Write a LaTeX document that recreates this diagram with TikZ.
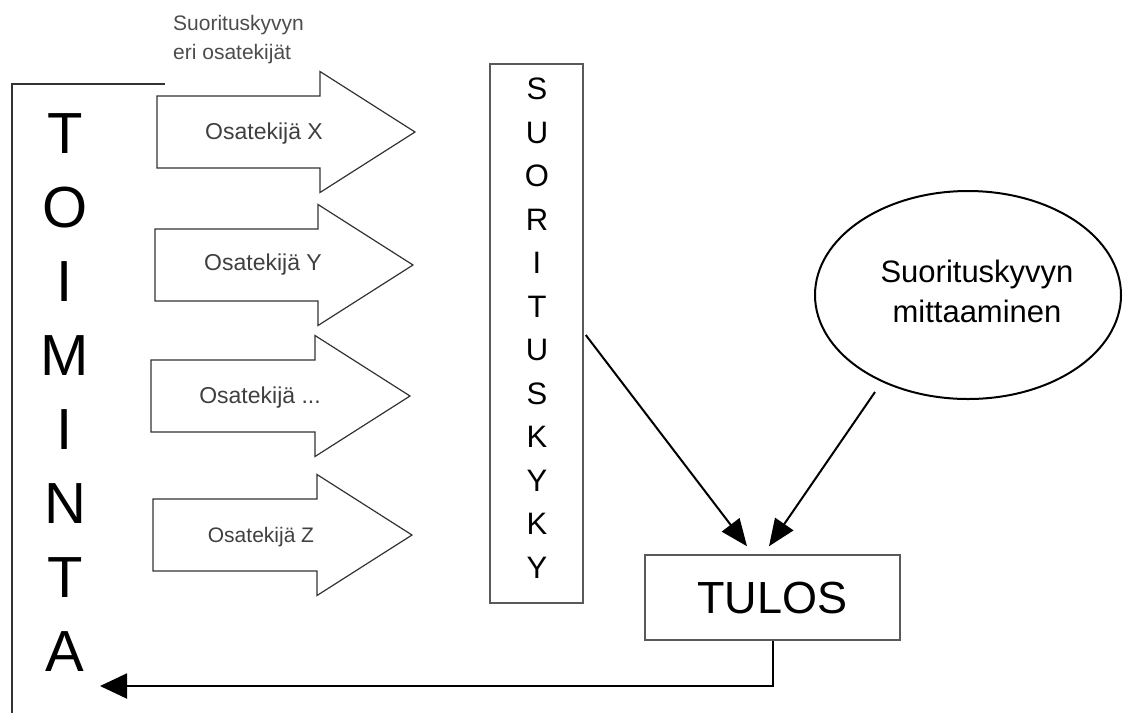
\documentclass[tikz,border=0pt]{standalone}
\usepackage{fontspec}
\setmainfont{Liberation Sans}
\usetikzlibrary{arrows.meta,shapes.geometric,calc}
\begin{document}
\begin{tikzpicture}[x=1pt,y=-1pt,
  facarrow/.style={draw=black!80, line width=1.2pt, fill=white, line join=miter},
  faclbl/.style={font=\fontsize{23}{27}\selectfont, text=black!75, inner sep=0},
  bigletters/.style={font=\fontsize{58}{74}\selectfont, inner sep=0, align=center, anchor=north},
  midletters/.style={font=\fontsize{31}{43.5}\selectfont, inner sep=0, align=center, anchor=north},
  graybox/.style={draw=black!65, line width=1.5pt, inner sep=0},
  conn/.style={draw=black, line width=2pt, -{Triangle[length=27pt,width=22pt]}},
  backconn/.style={draw=black, line width=2pt, -{Triangle[length=27pt,width=25pt]}}
]
\useasboundingbox (0,0) rectangle (1124,713);

% bracket of TOIMINTA
\draw[draw=black!80, line width=1.2pt] (165,84) -- (12,84) -- (12,713);
\node[bigletters] (toim) at (65,113) {T\\O\\I\\M\\I\\N\\T\\A};

% caption
\node[anchor=north west, inner sep=0, align=left, text=black!70,
      font=\fontsize{21}{29}\selectfont] (caption) at (173,15)
      {Suorituskyvyn\\eri osatekijät};

% factor arrows: body left, head start, tip, centre y
\draw[facarrow] (157,96) -- (320,96) -- (320,71.5) -- (415,132) -- (320,192.5) -- (320,168) -- (157,168) -- cycle;
\draw[facarrow] (155,229) -- (318,229) -- (318,204.5) -- (413,265) -- (318,325.5) -- (318,301) -- (155,301) -- cycle;
\draw[facarrow] (151,360) -- (315,360) -- (315,335.5) -- (410,396) -- (315,456.5) -- (315,432) -- (151,432) -- cycle;
\draw[facarrow] (153,499) -- (317,499) -- (317,474.5) -- (412,535) -- (317,595.5) -- (317,571) -- (153,571) -- cycle;
\node[faclbl] (fx) at (264,134) {Osatekijä X};
\node[faclbl] (fy) at (263,265) {Osatekijä Y};
\node[faclbl] (fd) at (260,398) {Osatekijä ...};
\node[faclbl, font=\fontsize{21}{25}\selectfont] (fz) at (261,537) {Osatekijä Z};

% SUORITUSKYKY column
\node[graybox, minimum width=93pt, minimum height=539pt] (suor) at (536.5,333.5) {};
\node[midletters] (suorlbl) at (537,78) {S\\U\\O\\R\\I\\T\\U\\S\\K\\Y\\K\\Y};

% measurement ellipse
\node[ellipse, draw=black, line width=2pt, minimum width=306pt, minimum height=208pt, inner sep=0] (meas) at (968,295) {};
\node[align=center, inner sep=0, font=\fontsize{31}{40}\selectfont] (measlbl) at (977,291) {Suorituskyvyn\\mittaaminen};

% result box
\node[graybox, minimum width=255pt, minimum height=85pt, font=\fontsize{45}{50}\selectfont] (tulos) at (772.5,597.5) {TULOS};

% connectors
\coordinate (t1) at ($(tulos.north)+(-25.5,-8)$);
\coordinate (t2) at ($(tulos.north)+(-3.5,-8)$);
\coordinate (e1) at ($(meas.center)+(-93,97)$);
\coordinate (back) at (100,686);
\draw[conn] ($(suor.east)+(2,1.5)$) -- (t1);
\draw[conn] (e1) -- (t2);
\draw[backconn] (tulos.south) |- (back);
\end{tikzpicture}
\end{document}
